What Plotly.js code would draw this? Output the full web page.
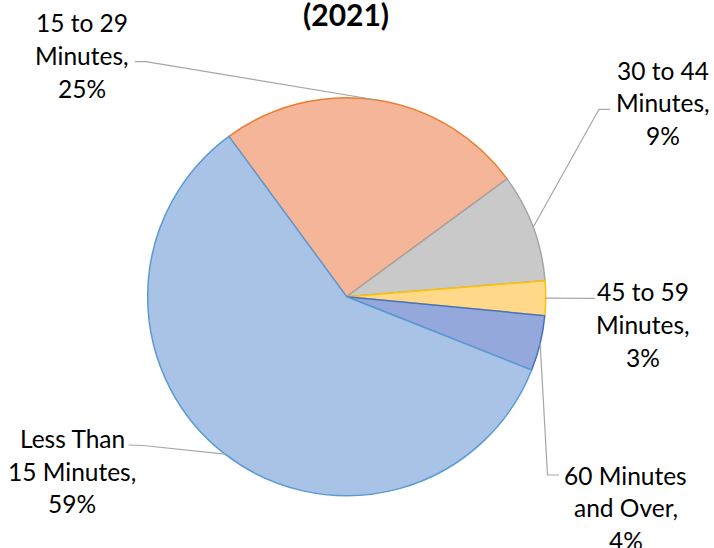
<!DOCTYPE html>
<html><head><meta charset="utf-8">
<script src="https://cdn.plot.ly/plotly-3.0.1.min.js"></script>
<style>html,body{margin:0;padding:0;background:#fff}#chart{width:714px;height:548px}</style>
</head><body><div id="chart"></div>
<script>
// ---- data ----
const categories = ["15 to 29 Minutes", "30 to 44 Minutes", "45 to 59 Minutes", "60 Minutes and Over", "Less Than 15 Minutes"];
const shares = [25.0, 8.8, 2.8, 4.49, 58.9];
const labelLines = [["15 to 29", "Minutes,"], ["30 to 44", "Minutes,"], ["45 to 59", "Minutes,"], ["60 Minutes", "and Over,"], ["Less Than", "15 Minutes,"]];
const titleText = "(2021)";

// ---- styling / layout ----
const W = 714, H = 548;
const fillColors = ["#f4b598", "#c9c9c9", "#ffd88a", "#95a8dc", "#a8c3e6"];
const lineColors = ["#ed7d31", "#a5a5a5", "#ffc000", "#4472c4", "#5b9bd5"];
const rotation = -36.3;
const cx = 346.7, cy = 296.7, r = 199;
const labelPos = [[82, 22.7], [663, 70], [643, 291.7], [625.5, 475], [72, 438.3]];
const lineStep = 32.8;
const leaderElbows = [
  [[135, 61.7], [146, 61.7]],
  [[610, 109.3], [599, 109.3]],
  [[595, 298.3]],
  [[559, 475], [547.5, 475]],
  [[128.5, 445], [143, 445.5]]
];
const FONT = "Lato, 'Open Sans', sans-serif";

const px = x => x / W, py = y => 1 - y / H;
const total = shares.reduce((a, b) => a + b, 0);

const annotations = [];
const shapes = [];
let cum = 0;
shares.forEach((v, i) => {
  const mid = rotation + 360 * (cum + v / 2) / total;
  cum += v;
  const a = mid * Math.PI / 180;
  const edge = [cx + r * Math.sin(a), cy - r * Math.cos(a)];
  const lines = labelLines[i].concat([Math.round(v * 100 / total) + "%"]);
  lines.forEach((t, k) => {
    annotations.push({
      text: t, xref: "paper", yref: "paper",
      x: px(labelPos[i][0]), y: py(labelPos[i][1] + k * lineStep),
      xanchor: "center", yanchor: "middle", showarrow: false,
      font: {family: FONT, size: 24.5, color: "#000"}
    });
  });
  const pts = leaderElbows[i].concat([edge]);
  const path = pts.map((p, k) => (k === 0 ? "M" : "L") + px(p[0]).toFixed(5) + "," + py(p[1]).toFixed(5)).join(" ");
  shapes.push({type: "path", xref: "paper", yref: "paper", path: path, line: {color: "#a6a6a6", width: 1.2}});
});

annotations.push({
  text: "<b>" + titleText + "</b>", xref: "paper", yref: "paper",
  x: px(346), y: py(14.5), xanchor: "center", yanchor: "middle", showarrow: false,
  font: {family: FONT, size: 30, color: "#000"}
});

const trace = {
  type: "pie",
  labels: categories,
  values: shares,
  sort: false,
  direction: "clockwise",
  rotation: rotation,
  textinfo: "none",
  hoverinfo: "label+percent",
  marker: {colors: fillColors, line: {color: lineColors, width: 1.5}},
  domain: {x: [px(cx - r), px(cx + r)], y: [py(cy + r), py(cy - r)]}
};

Plotly.newPlot("chart", [trace], {
  width: W, height: H,
  margin: {l: 0, r: 0, t: 0, b: 0},
  showlegend: false,
  paper_bgcolor: "#fff",
  annotations: annotations,
  shapes: shapes
}, {displayModeBar: false, staticPlot: true});
</script>
</body></html>
